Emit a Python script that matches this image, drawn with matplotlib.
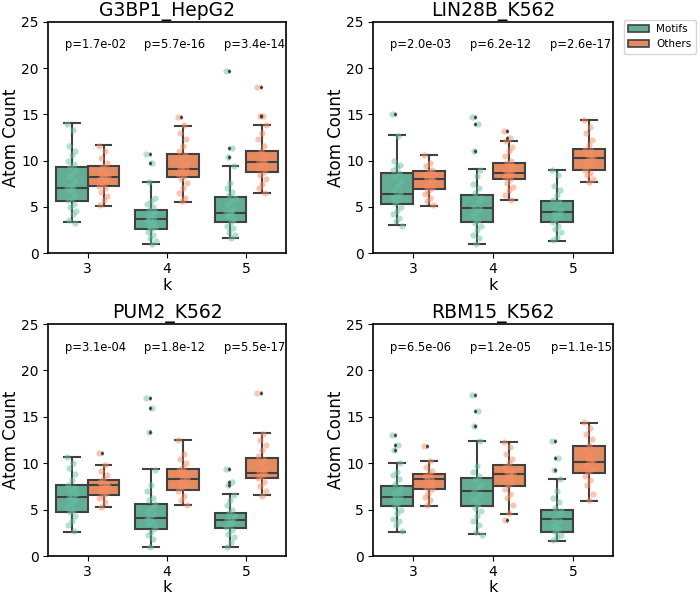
import numpy as np
import matplotlib
matplotlib.use("Agg")
import matplotlib.pyplot as plt
from matplotlib.patches import Patch

titles = ["G3BP1_HepG2", "LIN28B_K562", "PUM2_K562", "RBM15_K562"]
ks = ["3", "4", "5"]
hue_labels = ["Motifs", "Others"]
pvals = [["p=1.7e-02", "p=5.7e-16", "p=3.4e-14"],
         ["p=2.0e-03", "p=6.2e-12", "p=2.6e-17"],
         ["p=3.1e-04", "p=1.8e-12", "p=5.5e-17"],
         ["p=6.5e-06", "p=1.2e-05", "p=1.1e-15"]]

# box statistics [panel][k]
motif_whislo = [[3.34, 0.97, 1.68], [3.02, 1.0, 1.36], [2.62, 0.97, 1.01], [2.62, 2.33, 1.62]]
motif_q1 = [[5.68, 2.66, 3.34], [5.35, 3.34, 3.41], [4.71, 2.95, 2.98], [5.35, 5.35, 2.62]]
motif_med = [[7.0, 3.70, 4.38], [6.36, 4.85, 4.42], [6.36, 4.13, 3.88], [6.36, 7.0, 3.99]]
motif_q3 = [[9.35, 4.67, 6.04], [8.7, 6.26, 5.68], [7.62, 5.64, 4.67], [7.58, 8.37, 4.96]]
motif_whishi = [[14.06, 7.73, 9.38], [12.73, 9.06, 9.02], [10.67, 9.34, 6.64], [9.99, 12.36, 8.33]]
motif_fliers = [[[], [10.7, 9.7], [19.7, 11.4, 10.4]],
                [[15.0], [14.7, 14.0, 11.0], []],
                [[], [17.0, 16.0, 13.4], [9.4, 8.0, 7.6]],
                [[13.0, 12.0, 11.4], [17.3, 15.6, 14.0], [12.4, 10.6, 9.3]]]

other_whislo = [[5.14, 5.57, 6.47], [5.14, 5.78, 7.69], [5.31, 5.53, 6.54], [5.42, 4.56, 5.93]]
other_q1 = [[7.23, 8.2, 8.77], [6.97, 7.98, 8.99], [6.54, 7.15, 8.44], [7.22, 7.54, 8.94]]
other_med = [[8.27, 9.09, 9.81], [8.05, 8.66, 10.31], [7.62, 8.3, 8.98], [8.3, 8.84, 10.09]]
other_q3 = [[9.38, 10.68, 11.03], [8.91, 9.7, 11.22], [8.23, 9.41, 10.56], [8.87, 9.84, 11.89]]
other_whishi = [[11.65, 13.77, 13.9], [10.64, 12.11, 14.38], [9.81, 12.5, 13.25], [10.2, 12.25, 14.37]]
other_fliers = [[[], [14.7], [18.0, 14.8, 14.8]],
                [[], [13.2, 12.4], []],
                [[11.1], [], [17.6]],
                [[11.9], [3.9], []]]

# individual points (strip) [k]
g3bp1_motif = [
    [14.0, 13.3, 11.6, 11.0, 10.6, 10.0, 9.6, 9.3, 9.0, 8.6, 8.2, 7.8, 7.4, 7.0, 7.0, 6.7, 6.3, 6.0, 5.7, 5.3, 5.0, 4.6, 4.2, 3.6, 3.3],
    [10.7, 9.7, 7.7, 6.0, 5.6, 5.3, 5.0, 4.7, 4.5, 4.2, 4.0, 3.8, 3.7, 3.5, 3.3, 3.0, 2.8, 2.6, 2.3, 2.0, 1.6, 1.3, 1.0],
    [19.7, 11.4, 10.4, 9.4, 7.6, 7.0, 6.6, 6.3, 6.0, 5.6, 5.2, 4.8, 4.5, 4.4, 4.2, 4.0, 3.7, 3.4, 3.0, 2.7, 2.3, 2.0, 1.7]]
g3bp1_other = [
    [11.6, 11.0, 10.3, 9.8, 9.4, 9.0, 8.8, 8.5, 8.3, 8.2, 8.0, 7.8, 7.6, 7.3, 7.0, 6.6, 6.2, 5.8, 5.2],
    [14.7, 13.8, 13.0, 12.3, 11.6, 11.0, 10.6, 10.2, 9.8, 9.5, 9.2, 9.1, 8.9, 8.6, 8.3, 8.0, 7.6, 7.0, 6.5, 6.0, 5.6],
    [18.0, 14.8, 14.8, 13.9, 13.0, 12.3, 11.6, 11.0, 10.6, 10.2, 9.9, 9.8, 9.5, 9.2, 8.8, 8.5, 8.0, 7.5, 7.0, 6.5]]
lin28b_motif = [
    [15.0, 12.7, 10.0, 9.5, 9.3, 9.0, 8.7, 8.2, 7.8, 7.3, 6.8, 6.4, 6.2, 6.0, 5.7, 5.4, 5.0, 4.6, 4.2, 3.8, 3.5, 3.0],
    [14.7, 14.0, 11.0, 9.0, 8.3, 7.5, 7.0, 6.5, 6.0, 5.5, 5.0, 4.8, 4.5, 4.0, 3.6, 3.3, 3.0, 2.5, 2.0, 1.6, 1.0],
    [9.0, 8.4, 7.3, 6.8, 6.3, 5.8, 5.5, 5.0, 4.7, 4.4, 4.2, 4.0, 3.7, 3.4, 3.0, 2.6, 2.3, 1.8, 1.4]]
lin28b_other = [
    [10.6, 9.8, 9.4, 9.0, 8.8, 8.5, 8.2, 8.0, 7.9, 7.6, 7.3, 7.0, 6.7, 6.4, 6.0, 5.6, 5.2],
    [13.2, 12.4, 12.1, 11.5, 11.0, 10.5, 10.0, 9.7, 9.4, 9.0, 8.8, 8.6, 8.4, 8.2, 8.0, 7.6, 7.2, 6.8, 6.3, 5.8],
    [14.4, 13.6, 13.0, 12.2, 11.7, 11.2, 11.0, 10.7, 10.4, 10.3, 10.0, 9.7, 9.4, 9.0, 8.7, 8.4, 8.0, 7.7]]
pum2_motif = [
    [10.7, 10.0, 9.5, 8.8, 8.2, 7.6, 7.3, 7.0, 6.7, 6.4, 6.2, 6.0, 5.7, 5.3, 5.0, 4.7, 4.3, 3.8, 3.3, 2.7],
    [17.0, 16.0, 13.4, 9.3, 7.7, 7.0, 6.3, 6.0, 5.6, 5.2, 4.8, 4.5, 4.2, 4.0, 3.7, 3.4, 3.0, 2.6, 2.3, 1.8, 1.0],
    [9.4, 8.0, 7.6, 6.6, 6.0, 5.5, 5.0, 4.6, 4.3, 4.0, 3.9, 3.7, 3.4, 3.1, 2.8, 2.4, 2.0, 1.5, 1.0]]
pum2_other = [
    [11.1, 9.8, 9.2, 8.7, 8.3, 8.0, 7.8, 7.6, 7.5, 7.3, 7.0, 6.8, 6.5, 6.2, 5.8, 5.3],
    [12.5, 11.0, 10.5, 10.0, 9.6, 9.3, 9.0, 8.7, 8.4, 8.2, 8.0, 7.7, 7.4, 7.0, 6.5, 6.0, 5.5],
    [17.6, 13.2, 12.5, 12.0, 11.4, 10.8, 10.3, 10.0, 9.5, 9.2, 9.0, 8.8, 8.6, 8.4, 8.0, 7.5, 7.0, 6.5]]
rbm15_motif = [
    [13.0, 12.0, 11.4, 10.0, 9.0, 8.7, 8.3, 7.8, 7.3, 7.0, 6.7, 6.4, 6.2, 6.0, 5.7, 5.4, 5.0, 4.6, 4.0, 3.8, 3.3, 2.7],
    [17.3, 15.6, 14.0, 12.4, 9.7, 9.0, 8.6, 8.2, 7.8, 7.4, 7.0, 6.7, 6.3, 6.0, 5.6, 5.2, 4.8, 4.3, 3.8, 3.3, 2.6, 2.3],
    [12.4, 10.6, 9.3, 8.3, 7.0, 6.3, 5.8, 5.2, 4.8, 4.4, 4.0, 3.8, 3.5, 3.2, 2.9, 2.6, 2.3, 2.0, 1.7]]
rbm15_other = [
    [11.9, 10.2, 9.6, 9.2, 8.9, 8.6, 8.4, 8.2, 8.0, 7.7, 7.4, 7.2, 6.8, 6.4, 6.0, 5.5],
    [12.3, 11.7, 11.0, 10.5, 10.0, 9.6, 9.2, 9.0, 8.8, 8.6, 8.3, 8.0, 7.6, 7.2, 6.7, 6.2, 5.5, 4.6, 3.9],
    [14.4, 13.8, 13.2, 12.6, 12.0, 11.4, 11.0, 10.6, 10.3, 10.1, 9.8, 9.4, 9.0, 8.6, 8.2, 7.6, 6.7, 6.0]]

motif_points = [g3bp1_motif, lin28b_motif, pum2_motif, rbm15_motif]
other_points = [g3bp1_other, lin28b_other, pum2_other, rbm15_other]

point_colors = ["#66c2a5", "#fc8d62"]
box_colors = ["#62ad93", "#e58b60"]
line_color = "#404040"

W, H = 700, 596
fig = plt.figure(figsize=(W / 100, H / 100), dpi=100)
rects_px = [(48, 21.7, 286, 253.3), (373, 21.7, 613, 253.3),
            (48, 324, 286, 556), (373, 324, 613, 556)]

for p in range(4):
    l, t, r, b = rects_px[p]
    ax = fig.add_axes([l / W, 1 - b / H, (r - l) / W, (b - t) / H])
    for h, (wlo, q1, med, q3, whi, fl, pts) in enumerate([
            (motif_whislo, motif_q1, motif_med, motif_q3, motif_whishi, motif_fliers, motif_points),
            (other_whislo, other_q1, other_med, other_q3, other_whishi, other_fliers, other_points)]):
        stats = []
        for i in range(3):
            stats.append(dict(whislo=wlo[p][i], q1=q1[p][i], med=med[p][i],
                              q3=q3[p][i], whishi=whi[p][i], fliers=[]))
        off = -0.2 if h == 0 else 0.2
        pos = np.arange(3) + off
        ax.bxp(stats, positions=pos, widths=0.4, patch_artist=True,
               showfliers=False, manage_ticks=False,
               boxprops=dict(facecolor=box_colors[h], edgecolor=line_color, linewidth=1.5),
               medianprops=dict(color=line_color, linewidth=1.5),
               whiskerprops=dict(color=line_color, linewidth=1.5),
               capprops=dict(color=line_color, linewidth=1.5), zorder=2)
        for i in range(3):
            vals = np.array(pts[p][i])
            n = len(vals)
            jit = (((np.arange(n) * 0.618034) % 1.0) - 0.5) * 0.12
            ax.scatter(pos[i] + jit, vals, s=20, color=point_colors[h],
                       alpha=0.5, linewidths=0, zorder=3)
            if fl[p][i]:
                fv = np.array(fl[p][i])
                ax.plot(np.full(len(fv), pos[i] - 0.02), fv, linestyle="none",
                        marker="d", markersize=1.6, color=line_color, zorder=4)
    for i in range(3):
        ax.text(i + 0.1, 22.5, pvals[p][i], ha="center", va="center", fontsize=8.3)
    ax.set_xlim(-0.5, 2.5)
    ax.set_ylim(0, 25)
    ax.set_yticks([0, 5, 10, 15, 20, 25])
    ax.set_xticks(range(3))
    ax.set_xticklabels(ks)
    ax.tick_params(labelsize=10, pad=3)
    ax.set_title(titles[p], fontsize=13.5, pad=4)
    ax.set_ylabel("Atom Count", fontsize=12, labelpad=1)
    ax.set_xlabel("k", fontsize=11.5, labelpad=1)
    for s in ax.spines.values():
        s.set_linewidth(1.2)

handles = [Patch(facecolor=box_colors[0], edgecolor=line_color, linewidth=1.2, label=hue_labels[0]),
           Patch(facecolor=box_colors[1], edgecolor=line_color, linewidth=1.2, label=hue_labels[1])]
fig.legend(handles=handles, loc="upper left", bbox_to_anchor=(624 / W, 1 - 20 / H),
           fontsize=7.5, borderaxespad=0, handlelength=2.0, handletextpad=0.7)

fig.savefig("out.png", dpi=100)
